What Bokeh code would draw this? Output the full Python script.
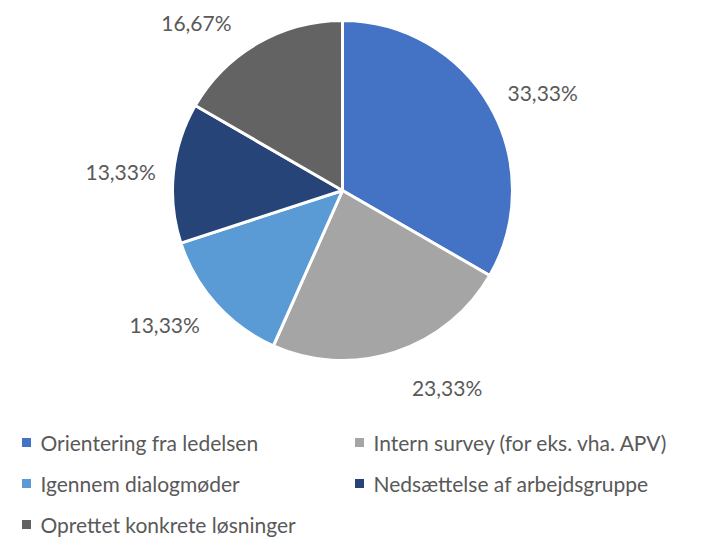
import math
from bokeh.plotting import figure
from bokeh.models import ColumnDataSource, Range1d
from bokeh.core.properties import value
from bokeh.embed import file_html
from bokeh.resources import INLINE

categories = ["Orientering fra ledelsen", "Intern survey (for eks. vha. APV)",
              "Igennem dialogmøder", "Nedsættelse af arbejdsgruppe",
              "Oprettet konkrete løsninger"]
percent = [33.33, 23.33, 13.33, 13.33, 16.67]
labels = ["33,33%", "23,33%", "13,33%", "13,33%", "16,67%"]
colors = ["#4472C4", "#A5A5A5", "#5B9BD5", "#264478", "#636363"]

# layout tweaks (degrees, clockwise) for label placement, like Excel's best fit
label_nudge = [4, -10, 5, -1, -11]

W, H = 686, 540
FONT = "Lato"
TXT = "#595959"
FS = "21px"

p = figure(width=W, height=H, output_backend="svg", toolbar_location=None,
           x_range=Range1d(0, W), y_range=Range1d(0, H), min_border=0)
p.axis.visible = False
p.grid.visible = False
p.outline_line_color = None
p.background_fill_color = "white"

cx, cy, r = 342, 350, 170
total = sum(percent)
starts, ends, lx, ly = [], [], [], []
acc = 0.0
for v, nd in zip(percent, label_nudge):
    a0 = math.pi / 2 - 2 * math.pi * acc / total
    a1 = math.pi / 2 - 2 * math.pi * (acc + v) / total
    starts.append(a1)
    ends.append(a0)
    mid = (a0 + a1) / 2 - math.radians(nd)
    lx.append(cx + r * 1.31 * math.cos(mid))
    ly.append(cy + r * 1.31 * math.sin(mid))
    acc += v

src = ColumnDataSource(dict(start=starts, end=ends, color=colors,
                            lx=lx, ly=ly, label=labels))
p.wedge(x=cx, y=cy, radius=r, start_angle="start", end_angle="end",
        fill_color="color", line_color="white", line_width=3, source=src)
p.text(x="lx", y="ly", text="label", source=src, text_align="center",
       text_baseline="middle", text_font=value(FONT), text_font_size=FS,
       text_color=TXT)

# legend
col_x = [26, 359]
row_y = [98, 57, 16]
lgx, lgy, sqx, sqy = [], [], [], []
for i, c in enumerate(categories):
    cxl = col_x[i % 2]
    cyl = row_y[i // 2]
    sqx.append(cxl)
    sqy.append(cyl)
    lgx.append(cxl + 14)
    lgy.append(cyl)
lsrc = ColumnDataSource(dict(sx=sqx, sy=sqy, tx=lgx, ty=lgy, t=categories, color=colors))
p.rect(x="sx", y="sy", width=9, height=9, fill_color="color", line_color=None, source=lsrc)
p.text(x="tx", y="ty", text="t", source=lsrc, text_align="left", text_baseline="middle",
       text_font=value(FONT), text_font_size=FS, text_color=TXT)

open("out.html", "w").write(file_html(p, INLINE))
